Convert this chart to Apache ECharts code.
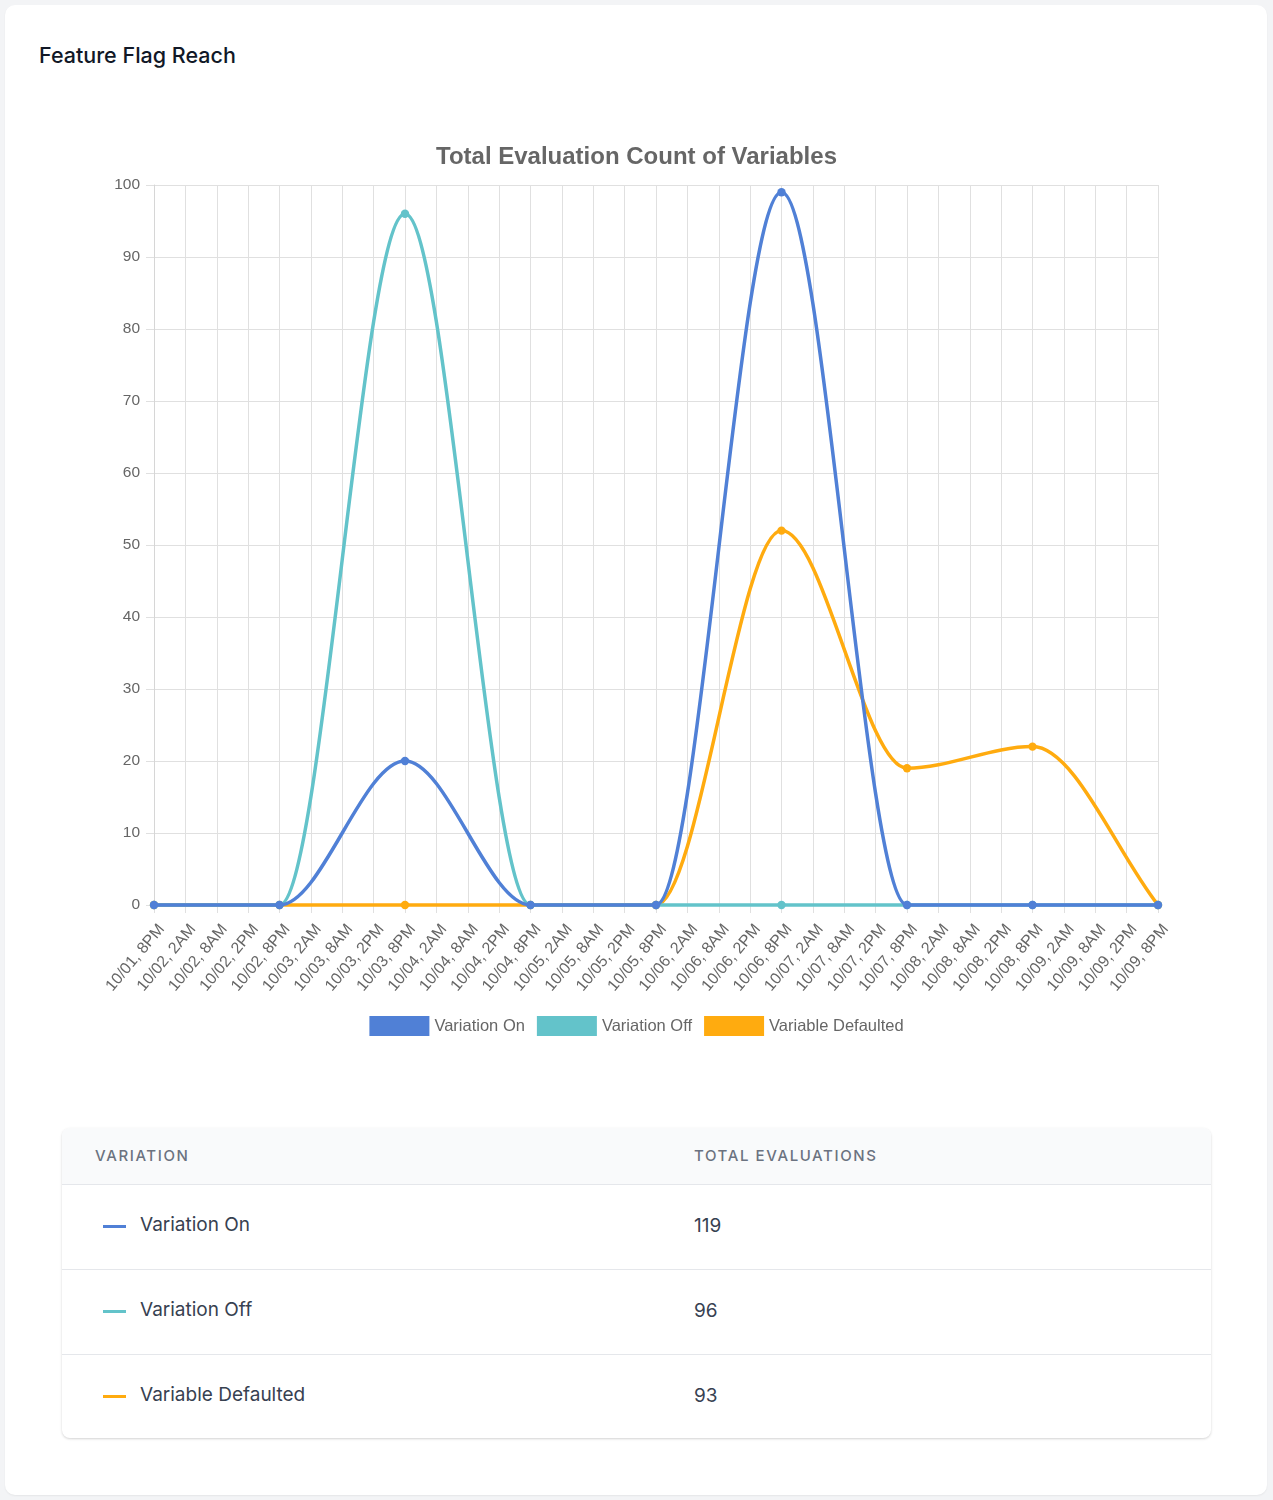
<!DOCTYPE html>
<html>
<head>
<meta charset="utf-8">
<script src="https://cdn.jsdelivr.net/npm/echarts@6/dist/echarts.min.js"></script>
<style>
  body { margin: 0; background: #f3f4f6; font-family: Inter, "Noto Sans", sans-serif; }
  .card { position: absolute; left: 5px; top: 5px; width: 1262px; height: 1490px; background: #fff; border-radius: 10px; box-shadow: 0 1px 2px rgba(0,0,0,0.06); }
  .heading { position: absolute; left: 34px; top: 36px; font-size: 21.5px; font-weight: 500; color: #111827; line-height: 28px; }
  #chart { position: absolute; left: -5px; top: 115px; width: 1273px; height: 950px; }
  .tbl { position: absolute; left: 57px; top: 1123px; width: 1149px; height: 310px; border-radius: 8px; overflow: hidden; background: #fff; box-shadow: 0 1px 3px rgba(0,0,0,0.12), 0 1px 2px rgba(0,0,0,0.06); }
  .thead { height: 56px; background: #f9fafb; border-bottom: 1px solid #e5e7eb; position: relative; }
  .th { position: absolute; top: 18px; font-size: 15px; letter-spacing: 1.6px; color: #6b7280; font-weight: 500; }
  .row { height: 84px; border-bottom: 1px solid #e5e7eb; position: relative; }
  .row:last-child { border-bottom: none; }
  .dash { position: absolute; left: 41px; top: 40px; width: 23px; height: 3px; }
  .name { position: absolute; left: 78px; top: 28px; font-size: 19px; color: #374151; }
  .num { position: absolute; left: 632px; top: 29px; font-size: 19px; color: #374151; }
</style>
</head>
<body>
<div class="card">
  <div class="heading">Feature Flag Reach</div>
  <div id="chart"></div>
  <div class="tbl" id="tbl">
    <div class="thead">
      <div class="th" style="left:33px">VARIATION</div>
      <div class="th" style="left:632px">TOTAL EVALUATIONS</div>
    </div>
  </div>
</div>
<script>
// tick labels every 6 hours
const tickLabels = [
  '10/01, 8PM', '10/02, 2AM', '10/02, 8AM', '10/02, 2PM',
  '10/02, 8PM', '10/03, 2AM', '10/03, 8AM', '10/03, 2PM',
  '10/03, 8PM', '10/04, 2AM', '10/04, 8AM', '10/04, 2PM',
  '10/04, 8PM', '10/05, 2AM', '10/05, 8AM', '10/05, 2PM',
  '10/05, 8PM', '10/06, 2AM', '10/06, 8AM', '10/06, 2PM',
  '10/06, 8PM', '10/07, 2AM', '10/07, 8AM', '10/07, 2PM',
  '10/07, 8PM', '10/08, 2AM', '10/08, 8AM', '10/08, 2PM',
  '10/08, 8PM', '10/09, 2AM', '10/09, 8AM', '10/09, 2PM',
  '10/09, 8PM'
]

// data points (daily)
const pointLabels = ['10/01, 8PM', '10/02, 8PM', '10/03, 8PM', '10/04, 8PM', '10/05, 8PM',
  '10/06, 8PM', '10/07, 8PM', '10/08, 8PM', '10/09, 8PM']

const variationOn = [0, 0, 20, 0, 0, 99, 0, 0, 0]
const variationOff = [0, 0, 96, 0, 0, 0, 0, 0, 0]
const variableDefaulted = [0, 0, 0, 0, 0, 52, 19, 22, 0]

const seriesNames = ['Variation On', 'Variation Off', 'Variable Defaulted']
const colors = ['#5080d6', '#63c3ca', '#ffab0f']
const totals = [119, 96, 93]

const FONT = 'Liberation Sans, Arial'

const chart = echarts.init(document.getElementById('chart'))

// monotone cubic slopes (pixel space), same idea as a monotone interpolation mode
function monotoneSlopes(pts) {
  const n = pts.length
  const dk = new Array(n).fill(0)
  const mk = new Array(n).fill(0)
  for (let i = 0; i < n - 1; i++) {
    const dx = pts[i + 1][0] - pts[i][0]
    dk[i] = dx !== 0 ? (pts[i + 1][1] - pts[i][1]) / dx : 0
  }
  for (let i = 0; i < n; i++) {
    if (i === 0) mk[i] = dk[0]
    else if (i === n - 1) mk[i] = dk[i - 1]
    else if (Math.sign(dk[i - 1]) !== Math.sign(dk[i])) mk[i] = 0
    else mk[i] = (dk[i - 1] + dk[i]) / 2
  }
  for (let i = 0; i < n - 1; i++) {
    if (Math.abs(dk[i]) < 1e-9) { mk[i] = mk[i + 1] = 0; continue }
    const a = mk[i] / dk[i]
    const b = mk[i + 1] / dk[i]
    const sq = a * a + b * b
    if (sq <= 9) continue
    const tau = 3 / Math.sqrt(sq)
    mk[i] = a * tau * dk[i]
    mk[i + 1] = b * tau * dk[i]
  }
  return mk
}

function makeSeries(name, values, i) {
  const color = colors[i]
  return {
    name: name,
    type: 'custom',
    z: 4 - i,
    itemStyle: { color: color },
    encode: { x: 0, y: 1 },
    data: pointLabels.map((l, k) => [tickLabels.indexOf(l), values[k]]),
    renderItem: function (params, api) {
      const n = params.dataInsideLength
      const k = params.dataIndexInside
      const area = params.coordSys
      const pts = []
      for (let j = 0; j < n; j++) pts.push(api.coord([api.value(0, j), api.value(1, j)]))
      const mk = monotoneSlopes(pts)
      const capY = (y) => Math.min(Math.max(y, area.y), area.y + area.height)
      const children = []
      const p = pts[k]
      if (k < n - 1) {
        const q = pts[k + 1]
        const d = (q[0] - p[0]) / 3
        children.push({
          type: 'bezierCurve',
          shape: { x1: p[0], y1: p[1], x2: q[0], y2: q[1],
            cpx1: p[0] + d, cpy1: capY(p[1] + mk[k] * d),
            cpx2: q[0] - d, cpy2: capY(q[1] - mk[k + 1] * d) },
          style: { stroke: color, lineWidth: 3.5, fill: null, lineCap: 'round' },
          z2: 1
        })
      }
      children.push({
        type: 'circle',
        shape: { cx: p[0], cy: p[1], r: 4.2 },
        style: { fill: color },
        z2: 10
      })
      return { type: 'group', children: children }
    }
  }
}

chart.setOption({
  animation: false,
  color: colors,
  title: {
    text: 'Total Evaluation Count of Variables',
    left: 'center',
    top: 20,
    textStyle: { fontFamily: FONT, fontSize: 24, fontWeight: 'bold', color: '#666' }
  },
  legend: {
    top: 891,
    left: 'center',
    itemWidth: 60,
    itemHeight: 20,
    itemGap: 12,
    icon: 'rect',
    textStyle: { fontFamily: FONT, fontSize: 16.5, color: '#666' },
    data: seriesNames
  },
  grid: { left: 154, right: 115, top: 65, bottom: 165 },
  xAxis: {
    type: 'category',
    boundaryGap: false,
    data: tickLabels,
    axisLine: { lineStyle: { color: '#d6d6d6' } },
    axisTick: { length: 8, interval: 0, lineStyle: { color: '#e0e0e0' } },
    splitLine: { show: true, interval: 0, lineStyle: { color: '#e0e0e0' } },
    axisLabel: {
      interval: 0,
      rotate: 50,
      fontFamily: FONT,
      fontSize: 16,
      lineHeight: 20,
      verticalAlign: 'top',
      color: '#666',
      margin: 15
    }
  },
  yAxis: {
    type: 'value',
    min: 0,
    max: 100,
    interval: 10,
    axisLine: { show: true, lineStyle: { color: '#d6d6d6' } },
    axisTick: { show: true, length: 8, lineStyle: { color: '#e0e0e0' } },
    splitLine: { lineStyle: { color: '#e0e0e0' } },
    axisLabel: { fontFamily: FONT, fontSize: 15.5, color: '#666', margin: 14 }
  },
  series: [
    makeSeries(seriesNames[0], variationOn, 0),
    makeSeries(seriesNames[1], variationOff, 1),
    makeSeries(seriesNames[2], variableDefaulted, 2)
  ]
})

// table rows
const tbl = document.getElementById('tbl')
seriesNames.forEach((n, i) => {
  const row = document.createElement('div')
  row.className = 'row'
  row.innerHTML = '<div class="dash" style="background:' + colors[i] + '"></div>' +
    '<div class="name">' + n + '</div><div class="num">' + totals[i] + '</div>'
  tbl.appendChild(row)
})
</script>
</body>
</html>
